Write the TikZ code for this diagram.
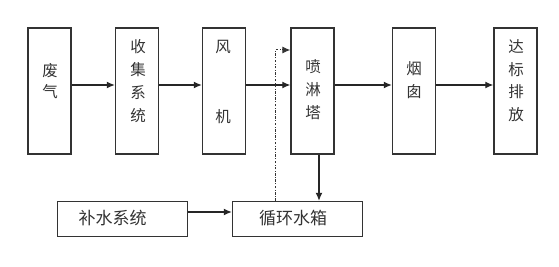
\documentclass[tikz,border=0pt]{standalone}
\usepackage{fontspec}
\newfontfamily\cjk{Noto Sans CJK SC}
\usetikzlibrary{arrows.meta}
\begin{document}
\begin{tikzpicture}[x=1pt,y=-1pt,
  box/.style={draw=black!80,line width=1.4pt,inner sep=0pt,fill=white},
  vbox/.style={box,minimum width=43pt,minimum height=126pt},
  hbox/.style={box,minimum width=130pt,minimum height=35pt},
  txt/.style={font=\cjk\fontsize{15.5}{15.5}\selectfont,text=black!80,inner sep=0pt},
  htxt/.style={font=\cjk\fontsize{17}{17}\selectfont,text=black!80,inner sep=0pt},
  arr/.style={draw=black!85,line width=1.2pt,-{Latex[length=8pt,width=7pt]}},
  dd/.style={draw=black!80,line width=1pt,dash pattern=on 2.5pt off 1.5pt on 0.8pt off 1.5pt,-{Latex[length=8pt,width=7pt]}}
]
\useasboundingbox (0,0) rectangle (559,267);
\fill[white] (0,0) rectangle (559,267);
% main boxes
\node[vbox] (b1) at (49.5,91) {};
\node[vbox] (b2) at (137,91) {};
\node[vbox] (b3) at (224,91) {};
\node[vbox] (b4) at (312.5,91) {};
\node[vbox] (b5) at (414,91) {};
\node[vbox] (b6) at (515.5,91) {};
\node[hbox] (bs) at (122.5,219) {};
\node[hbox] (bt) at (297.5,219) {};
% texts
\node[txt] (t11) at (50,71) {废};
\node[txt] (t12) at (50,92) {气};
\node[txt] (t21) at (138,47) {收};
\node[txt] (t22) at (138,70) {集};
\node[txt] (t23) at (138,93) {系};
\node[txt] (t24) at (138,116) {统};
\node[txt] (t31) at (223,47) {风};
\node[txt] (t32) at (223,117) {机};
\node[txt] (t41) at (313,67) {喷};
\node[txt] (t42) at (313,90) {淋};
\node[txt] (t43) at (313,113) {塔};
\node[txt] (t51) at (414,69) {烟};
\node[txt] (t52) at (414,92) {囱};
\node[txt] (t61) at (516,47) {达};
\node[txt] (t62) at (516,70) {标};
\node[txt] (t63) at (516,92) {排};
\node[txt] (t64) at (516,115) {放};
\node[htxt] (ts) at (112.5,218) {补水系统};
\node[htxt] (tt) at (293,218) {循环水箱};
% connectors
\coordinate (r) at (0,85);
\coordinate (rs) at (0,212);
\coordinate (rd) at (0,50);
\coordinate (xd) at (275.5,0);
\coordinate (xv) at (319,0);
\draw[arr] (b1.east |- r) -- (b2.west |- r);
\draw[arr] (b2.east |- r) -- (b3.west |- r);
\draw[arr] (b3.east |- r) -- (b4.west |- r);
\draw[arr] (b4.east |- r) -- (b5.west |- r);
\draw[arr] (b5.east |- r) -- (b6.west |- r);
\draw[arr] (xv |- b4.south) -- (xv |- bt.north);
\draw[arr] (bs.east |- rs) -- (bt.west |- rs);
\draw[dd] (xd |- bt.north) -- (xd |- rd) -- (b4.west |- rd);
\end{tikzpicture}
\end{document}
